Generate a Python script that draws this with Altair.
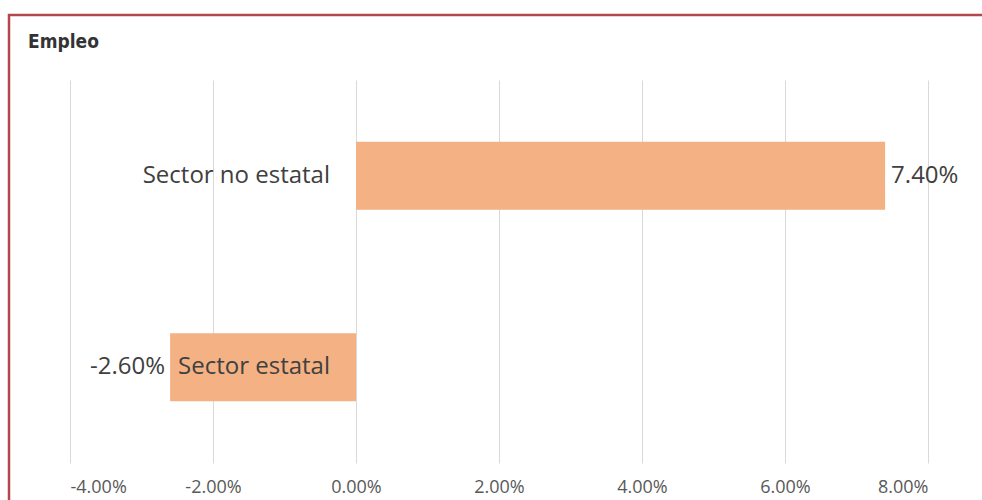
import altair as alt
import pandas as pd

categories = ["Sector no estatal", "Sector estatal"]
values = [0.074, -0.026]
ticks = [-0.04, -0.02, 0.0, 0.02, 0.04, 0.06, 0.08]
title_text = "Empleo"

df = pd.DataFrame({"sector": categories, "value": values})

W, H = 858, 383
PL, PT, PR, PB = 70, 80, 54, 37
FONT = "Open Sans"
TXT = "#404040"
FS = 24

x_scale = alt.Scale(domain=[-0.04, 0.08], nice=False)
y_scale = alt.Scale(domain=categories, paddingInner=0.645, paddingOuter=0.3225)

base = alt.Chart(df)

border = alt.Chart(pd.DataFrame({"a": [0]})).mark_rect(
    fillOpacity=0, stroke="#b3474b", strokeWidth=2.5
).encode(
    x=alt.value(9 - PL), x2=alt.value(W + PR + 50),
    y=alt.value(15 - PT), y2=alt.value(H + PB + 50),
)

title = alt.Chart(pd.DataFrame({"t": [title_text]})).mark_text(
    align="left", baseline="middle", font="DejaVu Sans Condensed, Roboto Condensed, Roboto",
    fontSize=19, fontWeight="bold", color="#333333"
).encode(
    x=alt.value(28 - PL), y=alt.value(42 - PT), text="t:N",
)

bars = base.mark_bar(color="#f4b183").encode(
    x=alt.X("value:Q", scale=x_scale,
            axis=alt.Axis(values=ticks, format=".2%",
                          labelExpr="replace(datum.label, '\u2212', '-')",
                          grid=True, gridColor="#d9d9d9", gridWidth=1,
                          domain=False, ticks=False, labelFontSize=18,
                          labelColor="#595959", labelPadding=15,
                          labelFont=FONT, title=None)),
    x2=alt.datum(0),
    y=alt.Y("sector:N", scale=y_scale, axis=None),
)

cat_text = base.mark_text(align="right", dx=-26, font=FONT, fontSize=FS, color=TXT).encode(
    x=alt.datum(0),
    y=alt.Y("sector:N", scale=y_scale),
    text="sector:N",
)

pos_text = base.transform_filter("datum.value >= 0").mark_text(
    align="left", dx=6, font=FONT, fontSize=FS, color=TXT
).encode(
    x=alt.X("value:Q", scale=x_scale),
    y=alt.Y("sector:N", scale=y_scale),
    text=alt.Text("value:Q", format=".2%"),
)

neg_text = base.transform_filter("datum.value < 0").transform_calculate(
    lab="replace(format(datum.value, '.2%'), '\u2212', '-')"
).mark_text(
    align="right", dx=-5, font=FONT, fontSize=FS, color=TXT
).encode(
    x=alt.X("value:Q", scale=x_scale),
    y=alt.Y("sector:N", scale=y_scale),
    text="lab:N",
)

chart = alt.layer(border, title, bars, cat_text, pos_text, neg_text).properties(
    width=W, height=H,
    background="white",
    autosize=alt.AutoSizeParams(type="none"),
    padding={"left": PL, "top": PT, "right": PR, "bottom": PB},
).configure_view(strokeWidth=0, stroke="transparent")

chart.save("out.html", embed_options={"renderer": "svg", "actions": False})
